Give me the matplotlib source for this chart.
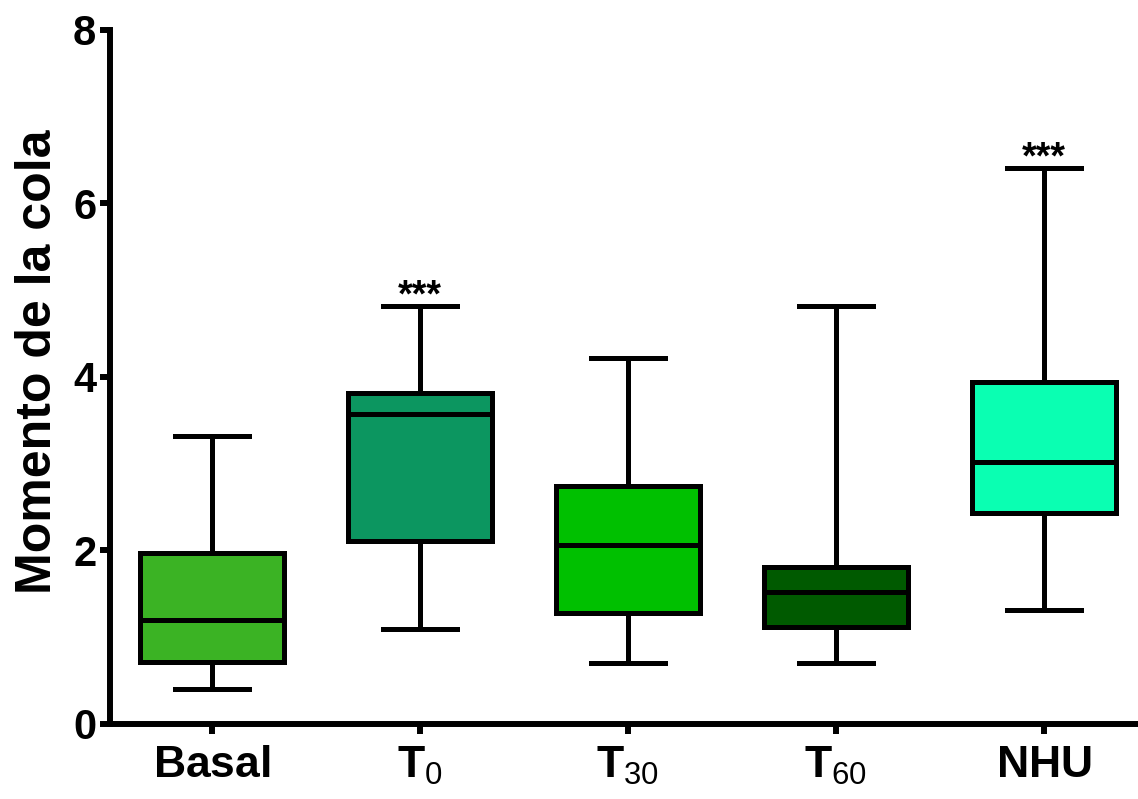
import matplotlib.pyplot as plt

plt.rcParams['font.family'] = ['Liberation Sans', 'DejaVu Sans']
plt.rcParams['font.weight'] = 'bold'
plt.rcParams['mathtext.fontset'] = 'custom'
plt.rcParams['mathtext.rm'] = 'Liberation Sans:regular'
plt.rcParams['mathtext.bf'] = 'Liberation Sans:bold'

# Momento de la cola por grupo (resumen de cada caja)
grupos = [r'$\mathbf{Basal}$', r'$\mathbf{T}_{0}$', r'$\mathbf{T}_{30}$',
          r'$\mathbf{T}_{60}$', r'$\mathbf{NHU}$']
minimos = [0.40, 1.10, 0.70, 0.70, 1.31]
q1 = [0.71, 2.11, 1.28, 1.12, 2.43]
medianas = [1.20, 3.57, 2.06, 1.52, 3.02]
q3 = [1.97, 3.81, 2.74, 1.81, 3.94]
maximos = [3.32, 4.82, 4.22, 4.82, 6.41]
colores = ['#3bb324', '#0c9660', '#00c000', '#005a00', '#0affb2']
significancia = ['', '***', '', '', '***']

stats = []
for i in range(len(grupos)):
    stats.append({'whislo': minimos[i], 'q1': q1[i], 'med': medianas[i],
                  'q3': q3[i], 'whishi': maximos[i], 'fliers': []})

fig = plt.figure(figsize=(11.38, 7.99), dpi=100)
ax = fig.add_axes([0.0967, 0.0939, 0.9033, 0.8686])

lw = 3.6
bp = ax.bxp(stats, positions=range(len(grupos)), widths=0.69, capwidths=0.356,
            patch_artist=True, showfliers=False,
            boxprops=dict(linewidth=lw, edgecolor='black'),
            medianprops=dict(linewidth=lw, color='black'),
            whiskerprops=dict(linewidth=lw, color='black'),
            capprops=dict(linewidth=lw, color='black'))
for caja, c in zip(bp['boxes'], colores):
    caja.set_facecolor(c)

for i, s in enumerate(significancia):
    if s:
        ax.text(i, maximos[i] - 0.1, s, ha='center', va='bottom',
                fontsize=27, fontweight='bold')

ax.set_xlim(-0.49, 4.452)
ax.set_ylim(0, 8)
ax.set_yticks([0, 2, 4, 6, 8])
ax.set_xticks(range(len(grupos)))
ax.set_xticklabels(grupos)
ax.set_ylabel('Momento de la cola', fontsize=36, fontweight='bold')
ax.yaxis.set_label_coords(-0.048, 0.522)

for lado in ['top', 'right']:
    ax.spines[lado].set_visible(False)
for lado in ['left', 'bottom']:
    ax.spines[lado].set_linewidth(4.3)
ax.tick_params(axis='both', width=4.3, length=7, labelsize=30)
ax.tick_params(axis='x', pad=8, labelsize=32)
ax.tick_params(axis='y', pad=3)

fig.savefig('out.png', dpi=100)
